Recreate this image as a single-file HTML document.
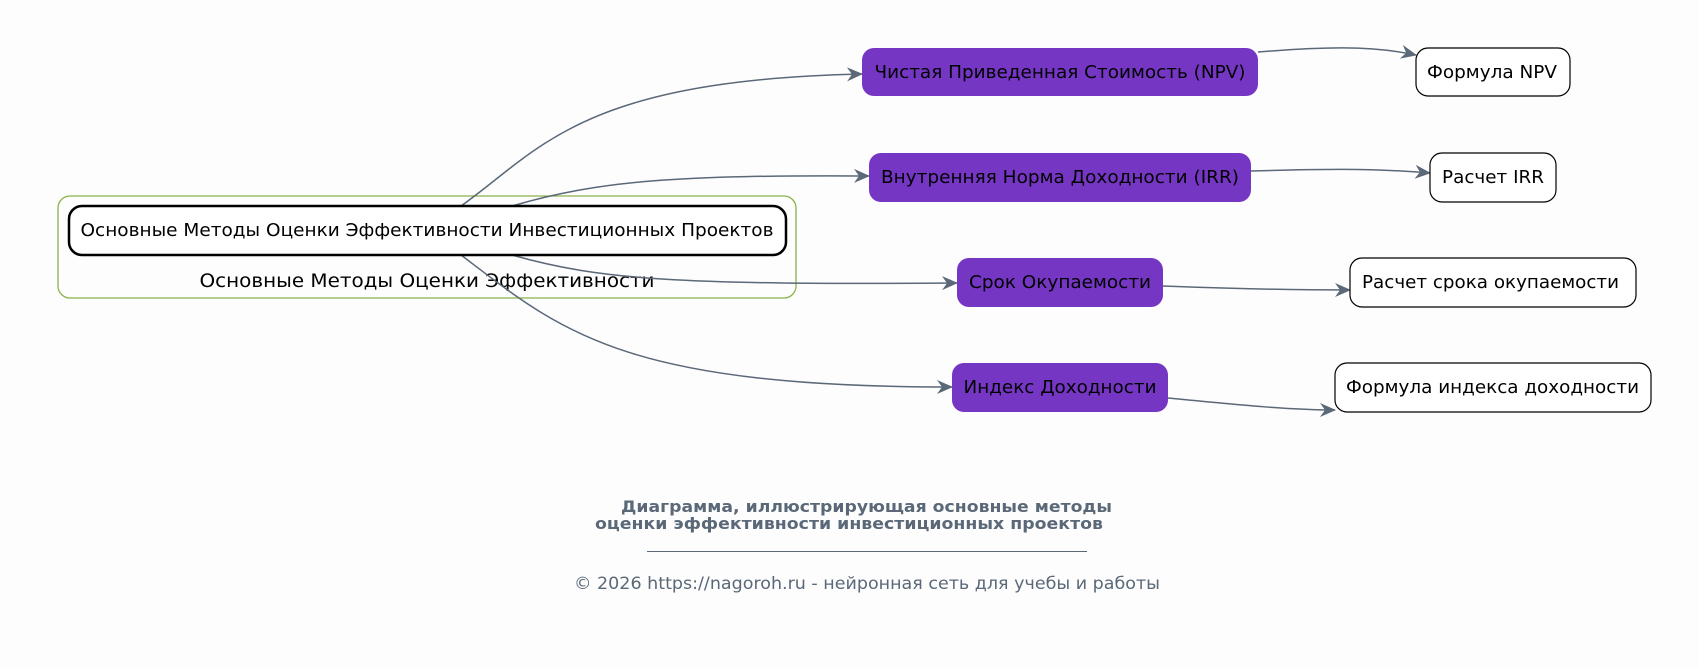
<!DOCTYPE html>
<html><head><meta charset="utf-8"><style>
html,body{margin:0;padding:0;background:#fdfdfd;}
svg{display:block;}
text{font-family:"DejaVu Sans","Liberation Sans",sans-serif;}
</style></head><body>
<svg width="1699" height="668" viewBox="0 0 1699 668" xmlns="http://www.w3.org/2000/svg">
<defs>
<marker id="a" viewBox="0 0 16 14" refX="15" refY="7" markerWidth="16" markerHeight="14" markerUnits="userSpaceOnUse" orient="auto">
<path d="M0,0 L16,7 L0,14 L5,7 Z" fill="#5a6878"/>
</marker>
</defs>
<rect x="58" y="196" width="738" height="102" rx="12" fill="none" stroke="#8ab34a" stroke-width="1.3"/>
<text x="427" y="287" font-size="18.5" text-anchor="middle" textLength="455" lengthAdjust="spacingAndGlyphs">Основные Методы Оценки Эффективности</text>

<g fill="none" stroke="#5a6878" stroke-width="1.5" marker-end="url(#a)">
<path d="M461,206 C540,150 580,80 862,74"/>
<path d="M512,206 C600,180 680,175 869,176"/>
<path d="M512,255 C600,280 680,285 957,283"/>
<path d="M461,255 C560,330 620,387 952,387"/>
<path d="M1258,52 C1320,47 1370,45 1416,55"/>
<path d="M1251,171 C1320,169 1370,168 1430,173"/>
<path d="M1163,286 C1240,289 1290,290 1350,290"/>
<path d="M1168,398 C1240,405 1290,410 1335,410"/>
</g>

<rect x="69" y="206" width="717" height="49" rx="13" fill="#fff" stroke="#000" stroke-width="2.5"/>
<text x="427" y="236" font-size="18" text-anchor="middle" textLength="693" lengthAdjust="spacingAndGlyphs">Основные Методы Оценки Эффективности Инвестиционных Проектов</text>

<g fill="#7536c4">
<rect x="862" y="48" width="396" height="48" rx="12"/>
<rect x="869" y="153" width="382" height="49" rx="12"/>
<rect x="957" y="258" width="206" height="49" rx="12"/>
<rect x="952" y="363" width="216" height="49" rx="12"/>
</g>
<g font-size="18" text-anchor="middle" fill="#000">
<text x="1060" y="78" textLength="371" lengthAdjust="spacingAndGlyphs">Чистая Приведенная Стоимость (NPV)</text>
<text x="1060" y="183" textLength="358" lengthAdjust="spacingAndGlyphs">Внутренняя Норма Доходности (IRR)</text>
<text x="1060" y="288" textLength="182" lengthAdjust="spacingAndGlyphs">Срок Окупаемости</text>
<text x="1060" y="393" textLength="193" lengthAdjust="spacingAndGlyphs">Индекс Доходности</text>
</g>

<g fill="#fff" stroke="#000" stroke-width="1.2">
<rect x="1416" y="48" width="154" height="48" rx="12"/>
<rect x="1430" y="153" width="126" height="49" rx="12"/>
<rect x="1350" y="258" width="286" height="49" rx="12"/>
<rect x="1335" y="363" width="316" height="49" rx="12"/>
</g>
<g font-size="18" fill="#000">
<text x="1427" y="78" textLength="130" lengthAdjust="spacingAndGlyphs">Формула NPV</text>
<text x="1442" y="183" textLength="102" lengthAdjust="spacingAndGlyphs">Расчет IRR</text>
<text x="1362" y="288" textLength="257" lengthAdjust="spacingAndGlyphs">Расчет срока окупаемости</text>
<text x="1346" y="393" textLength="293" lengthAdjust="spacingAndGlyphs">Формула индекса доходности</text>
</g>

<g fill="#5a6878">
<text x="621" y="512" font-size="16" font-weight="bold" textLength="491" lengthAdjust="spacingAndGlyphs">Диаграмма, иллюстрирующая основные методы</text>
<text x="595" y="529" font-size="16" font-weight="bold" textLength="508" lengthAdjust="spacingAndGlyphs">оценки эффективности инвестиционных проектов</text>
<rect x="647" y="551" width="440" height="1"/>
<text x="574" y="589" font-size="16.5" textLength="586" lengthAdjust="spacingAndGlyphs">© 2026 https://nagoroh.ru - нейронная сеть для учебы и работы</text>
</g>
</svg>
</body></html>
